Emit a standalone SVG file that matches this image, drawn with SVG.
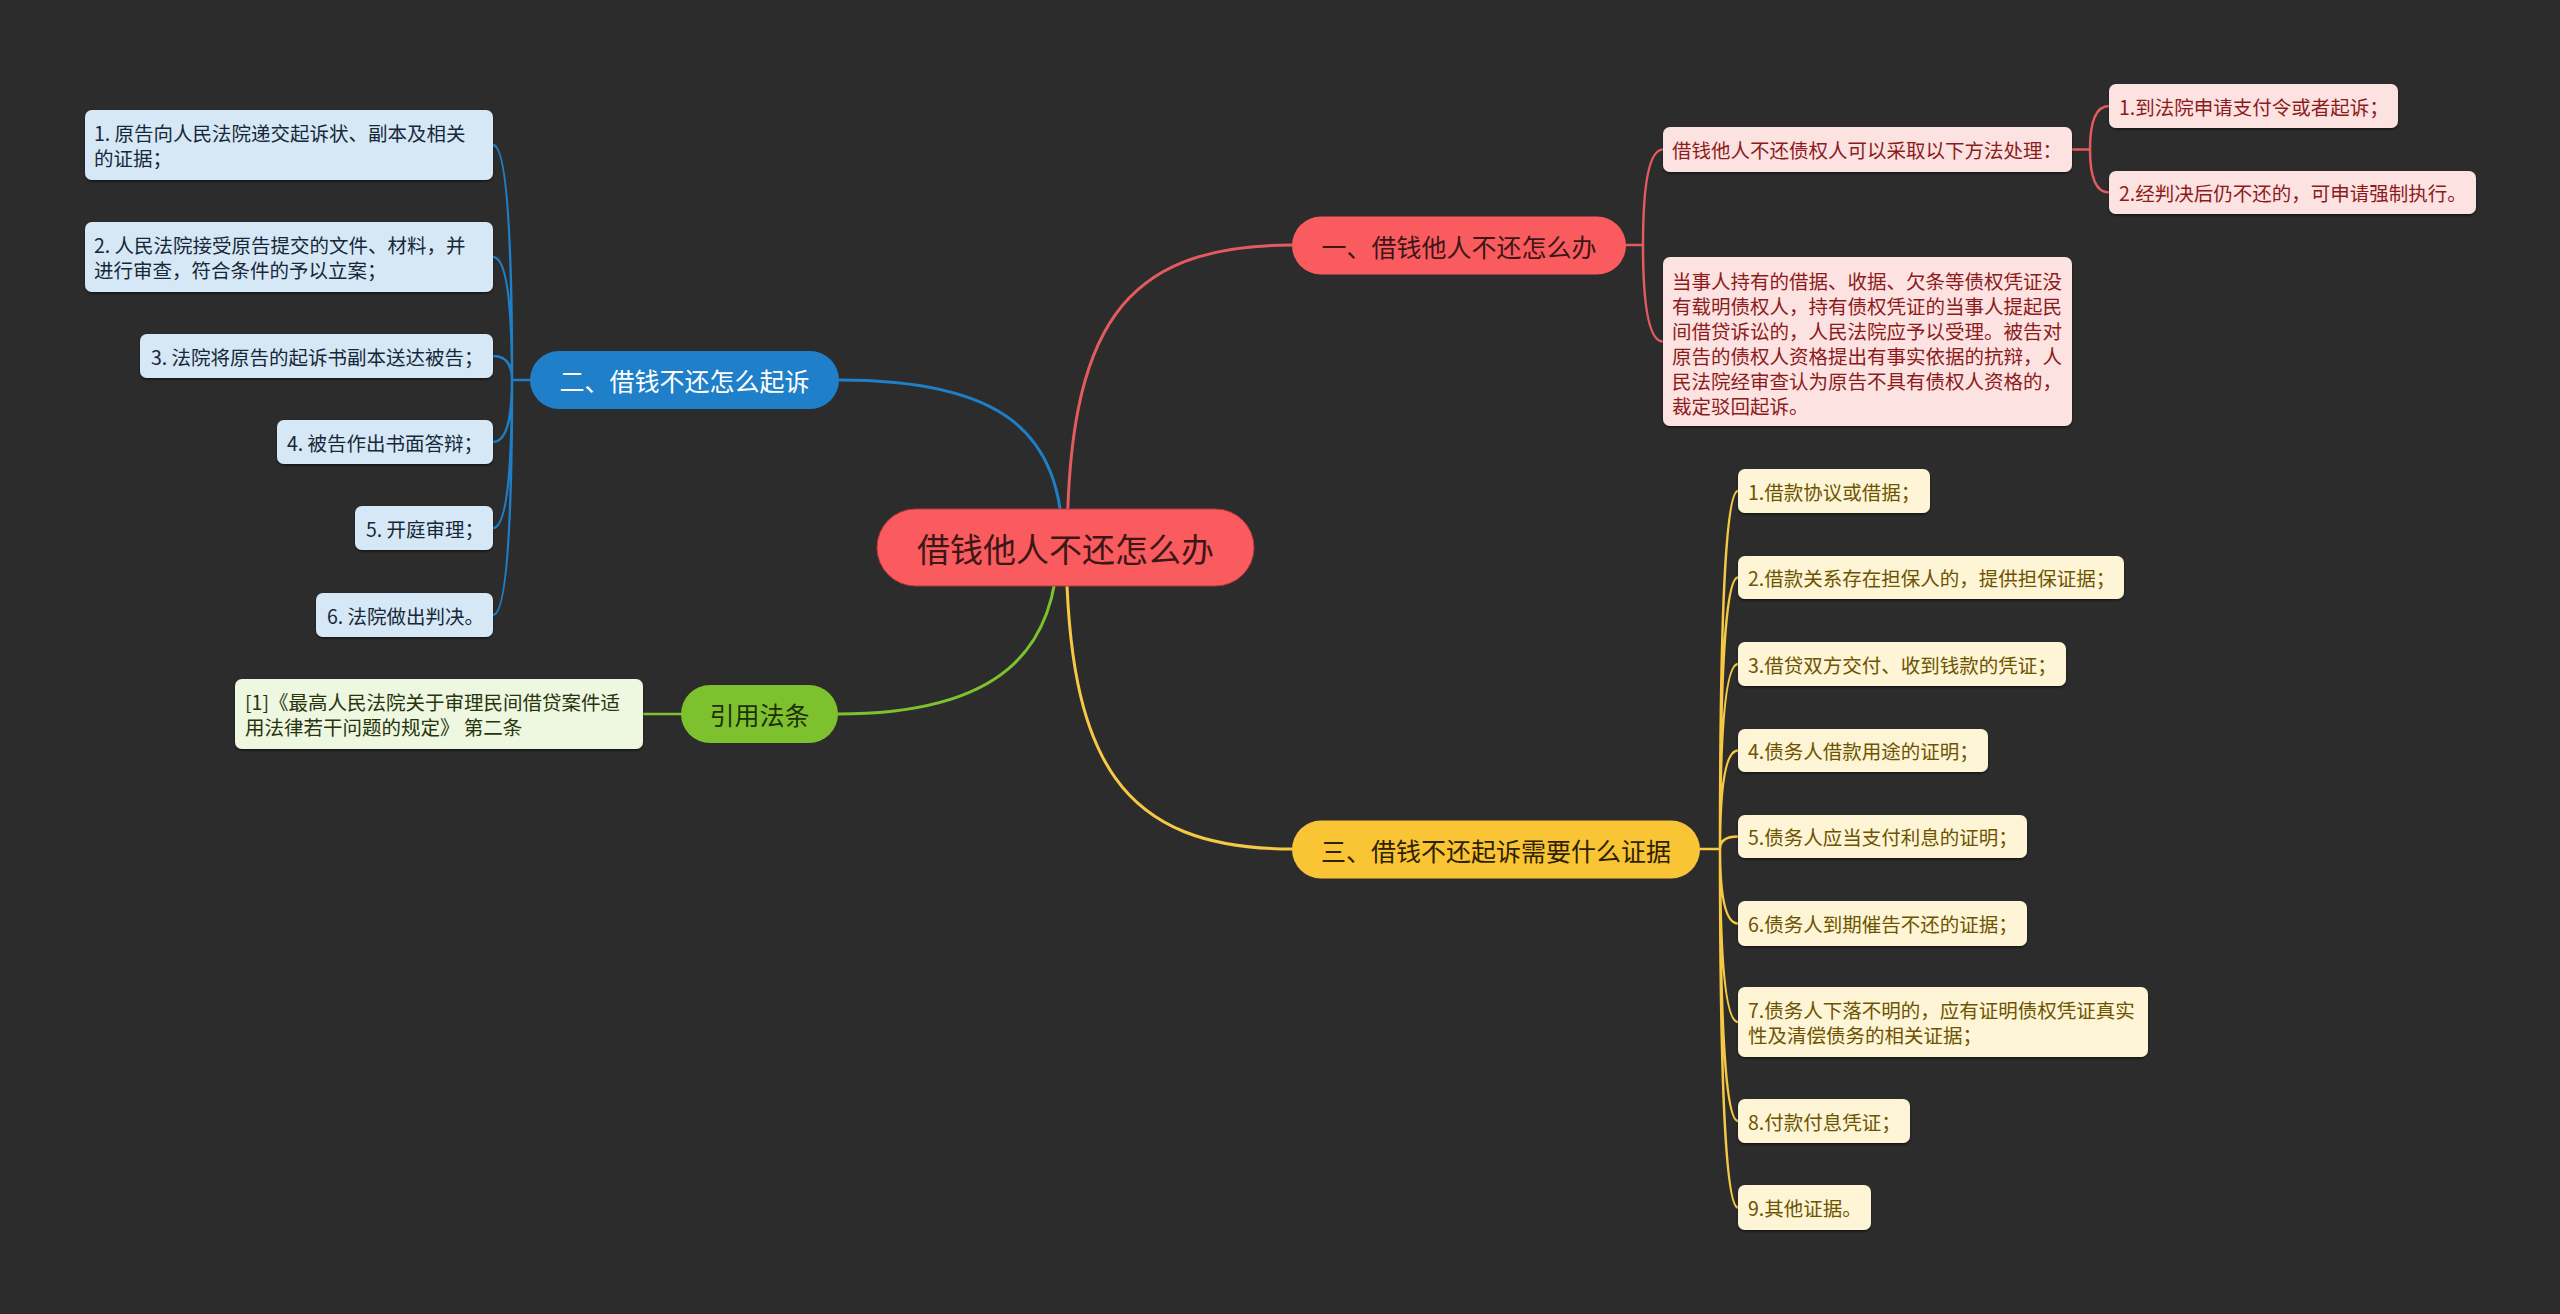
<svg xmlns="http://www.w3.org/2000/svg" width="2560" height="1314" viewBox="0 0 2560 1314">
<style>
text{font-family:"Noto Sans CJK SC","Noto Sans",sans-serif;dominant-baseline:central}
.c{fill:none;stroke-linecap:round}
.main{stroke-width:3}
.sub{stroke-width:2.5}
.lr{stroke:#e35b5e}.lb{stroke:#1f7fc6}.lg{stroke:#7dc22e}.ly{stroke:#f6c843}
.box{filter:url(#sh)}
.t{font-size:19.5px}
.n{font-size:25px;text-anchor:middle}
.br{fill:#fde2e2}.tr{fill:#8c1c1c}
.bb{fill:#d6e8f5}.tb{fill:#16283a}
.bg{fill:#eef7df}.tg{fill:#27340f}
.by{fill:#fdf5d6}.ty{fill:#6e5300}
</style>
<defs>
<filter id="sh" x="-5%" y="-20%" width="110%" height="150%">
<feDropShadow dx="0" dy="1.5" stdDeviation="1.2" flood-color="#000" flood-opacity="0.55"/>
</filter>
</defs>
<rect width="2560" height="1314" fill="#2c2c2c"/>
<g id="connectors">
<path class="c main lb" d="M839 380 C1000 380 1062 430 1063 547"/>
<path class="c main lr" d="M1292 245 C1120 245 1068 330 1067 547"/>
<path class="c main lg" d="M838 714 C1000 714 1056 650 1058 547"/>
<path class="c main ly" d="M1292 849 C1120 849 1068 760 1066 547"/>
<path class="c sub lb" d="M530 380 H512 M512 380 Q512 145 493 145 M512 380 Q512 257 493 257 M512 380 Q512 356 493 356 M512 380 Q512 442 493 442 M512 380 Q512 528 493 528 M512 380 Q512 615 493 615"/>
<path class="c sub lg" d="M643 714 H681"/>
<path class="c sub lr" d="M1626 245 H1643 M1643 245 Q1643 149.5 1663 149.5 M1643 245 Q1643 341.5 1663 341.5"/>
<path class="c sub lr" d="M2072 149.5 H2090 M2090 149.5 Q2090 106 2109 106 M2090 149.5 Q2090 192.5 2109 192.5"/>
<path class="c sub ly" d="M1700 849 H1720 M1720 849 Q1720 491 1738 491 M1720 849 Q1720 577.5 1738 577.5 M1720 849 Q1720 664 1738 664 M1720 849 Q1720 750.5 1738 750.5 M1720 849 Q1720 836.5 1738 836.5 M1720 849 Q1720 923.5 1738 923.5 M1720 849 Q1720 1022 1738 1022 M1720 849 Q1720 1121 1738 1121 M1720 849 Q1720 1207.5 1738 1207.5"/>
</g>
<g id="root">
<rect x="877" y="509" width="377" height="77" rx="38.5" fill="#fa5b5f" stroke="#b8373b" stroke-width="1"/>
<text x="1065.5" y="547.5" font-size="33" text-anchor="middle" fill="#3d1616">借钱他人不还怎么办</text>
</g>
<g id="n1">
<rect x="1292" y="216.5" width="334" height="58" rx="29" fill="#fa5b5f"/>
<text class="n" x="1459" y="245.5" fill="#3d1616">一、借钱他人不还怎么办</text>
</g>
<g id="n1a">
<rect class="box br" x="1663" y="127" width="409" height="45" rx="7"/>
<text class="t tr" x="1672" y="149.5">借钱他人不还债权人可以采取以下方法处理：</text>
</g>
<g id="n1a1">
<rect class="box br" x="2109" y="84" width="289" height="44" rx="7"/>
<text class="t tr" x="2119" y="106">1.到法院申请支付令或者起诉；</text>
</g>
<g id="n1a2">
<rect class="box br" x="2109" y="171" width="367" height="43" rx="7"/>
<text class="t tr" x="2119" y="192.5">2.经判决后仍不还的，可申请强制执行。</text>
</g>
<g id="n1b">
<rect class="box br" x="1663" y="257" width="409" height="169" rx="7"/>
<text class="t tr" x="1672" y="280">当事人持有的借据、收据、欠条等债权凭证没</text>
<text class="t tr" x="1672" y="305">有载明债权人，持有债权凭证的当事人提起民</text>
<text class="t tr" x="1672" y="330">间借贷诉讼的，人民法院应予以受理。被告对</text>
<text class="t tr" x="1672" y="355">原告的债权人资格提出有事实依据的抗辩，人</text>
<text class="t tr" x="1672" y="380">民法院经审查认为原告不具有债权人资格的，</text>
<text class="t tr" x="1672" y="405">裁定驳回起诉。</text>
</g>
<g id="n2">
<rect x="530" y="351" width="309" height="58" rx="29" fill="#1f80c9"/>
<text class="n" x="684.5" y="380" fill="#ffffff">二、借钱不还怎么起诉</text>
</g>
<g id="n2-1">
<rect class="box bb" x="85" y="110" width="408" height="70" rx="7"/>
<text class="t tb" x="94" y="132.5">1. 原告向人民法院递交起诉状、副本及相关</text>
<text class="t tb" x="94" y="157.5">的证据；</text>
</g>
<g id="n2-2">
<rect class="box bb" x="85" y="222" width="408" height="70" rx="7"/>
<text class="t tb" x="94" y="244.5">2. 人民法院接受原告提交的文件、材料，并</text>
<text class="t tb" x="94" y="269.5">进行审查，符合条件的予以立案；</text>
</g>
<g id="n2-3">
<rect class="box bb" x="140" y="334" width="353" height="44" rx="7"/>
<text class="t tb" x="151" y="356">3. 法院将原告的起诉书副本送达被告；</text>
</g>
<g id="n2-4">
<rect class="box bb" x="277" y="420" width="216" height="44" rx="7"/>
<text class="t tb" x="287" y="442">4. 被告作出书面答辩；</text>
</g>
<g id="n2-5">
<rect class="box bb" x="355" y="506" width="138" height="44" rx="7"/>
<text class="t tb" x="366" y="528">5. 开庭审理；</text>
</g>
<g id="n2-6">
<rect class="box bb" x="316" y="593" width="177" height="44" rx="7"/>
<text class="t tb" x="327" y="615">6. 法院做出判决。</text>
</g>
<g id="n4">
<rect x="681" y="685" width="157" height="58" rx="29" fill="#7dc22e"/>
<text class="n" x="759.5" y="714" fill="#1e300a">引用法条</text>
</g>
<g id="n4-1">
<rect class="box bg" x="235" y="679" width="408" height="70" rx="7"/>
<text class="t tg" x="245" y="701.5">[1]《最高人民法院关于审理民间借贷案件适</text>
<text class="t tg" x="245" y="726.5">用法律若干问题的规定》 第二条</text>
</g>
<g id="n3">
<rect x="1292" y="820.5" width="408" height="58" rx="29" fill="#f9c535"/>
<text class="n" x="1496" y="849.5" fill="#2e2200">三、借钱不还起诉需要什么证据</text>
</g>
<g id="n3-1"><rect class="box by" x="1738" y="469" width="192" height="44" rx="7"/><text class="t ty" x="1748" y="491">1.借款协议或借据；</text></g>
<g id="n3-2"><rect class="box by" x="1738" y="556" width="386" height="43" rx="7"/><text class="t ty" x="1748" y="577.5">2.借款关系存在担保人的，提供担保证据；</text></g>
<g id="n3-3"><rect class="box by" x="1738" y="642" width="328" height="44" rx="7"/><text class="t ty" x="1748" y="664">3.借贷双方交付、收到钱款的凭证；</text></g>
<g id="n3-4"><rect class="box by" x="1738" y="729" width="250" height="43" rx="7"/><text class="t ty" x="1748" y="750.5">4.债务人借款用途的证明；</text></g>
<g id="n3-5"><rect class="box by" x="1738" y="815" width="289" height="43" rx="7"/><text class="t ty" x="1748" y="836.5">5.债务人应当支付利息的证明；</text></g>
<g id="n3-6"><rect class="box by" x="1738" y="901" width="289" height="45" rx="7"/><text class="t ty" x="1748" y="923.5">6.债务人到期催告不还的证据；</text></g>
<g id="n3-7"><rect class="box by" x="1738" y="987" width="410" height="70" rx="7"/><text class="t ty" x="1748" y="1009.5">7.债务人下落不明的，应有证明债权凭证真实</text><text class="t ty" x="1748" y="1034.5">性及清偿债务的相关证据；</text></g>
<g id="n3-8"><rect class="box by" x="1738" y="1099" width="172" height="44" rx="7"/><text class="t ty" x="1748" y="1121">8.付款付息凭证；</text></g>
<g id="n3-9"><rect class="box by" x="1738" y="1185" width="133" height="45" rx="7"/><text class="t ty" x="1748" y="1207.5">9.其他证据。</text></g>
</svg>
